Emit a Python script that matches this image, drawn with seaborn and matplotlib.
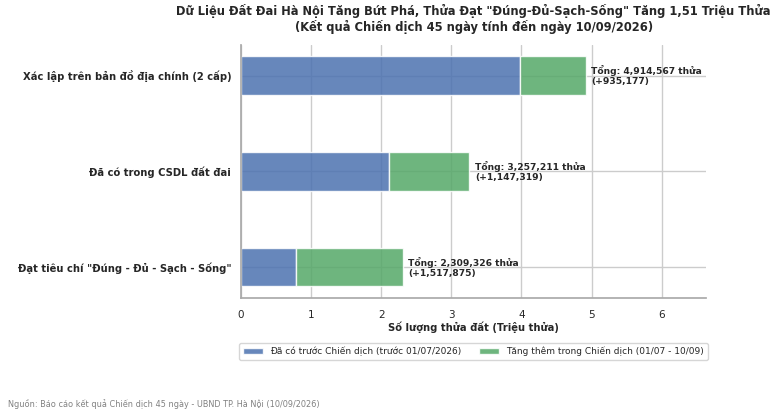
import matplotlib
matplotlib.use("Agg")
import matplotlib.pyplot as plt
import seaborn as sns

# --- Data (so thua dat) ------------------------------------------------
categories = [
    "Xác lập trên bản đồ địa chính (2 cấp)",
    "Đã có trong CSDL đất đai",
    'Đạt tiêu chí "Đúng - Đủ - Sạch - Sống"',
]
totals = [4914567, 3257211, 2309326]
increases = [935177, 1147319, 1517875]
before = [t - inc for t, inc in zip(totals, increases)]

label_before = "Đã có trước Chiến dịch (trước 01/07/2026)"
label_added = "Tăng thêm trong Chiến dịch (01/07 - 10/09)"
title = ('Dữ Liệu Đất Đai Hà Nội Tăng Bứt Phá, Thửa Đạt "Đúng-Đủ-Sạch-Sống" Tăng 1,51 Triệu Thửa\n'
         "(Kết quả Chiến dịch 45 ngày tính đến ngày 10/09/2026)")
source = "Nguồn: Báo cáo kết quả Chiến dịch 45 ngày - UBND TP. Hà Nội (10/09/2026)"

sns.set_theme(style="whitegrid")
plt.rcParams["font.family"] = ["DejaVu Sans"]
palette = sns.color_palette("deep")

fig = plt.figure(figsize=(7.77, 4.15), dpi=100)
ax = fig.add_axes([0.310, 0.282, 0.599, 0.610])

pos = list(range(len(categories)))[::-1]
b_mil = [v / 1e6 for v in before]
i_mil = [v / 1e6 for v in increases]

ax.barh(pos, b_mil, height=0.4, color=palette[0], alpha=0.85,
        edgecolor="white", linewidth=1, label=label_before)
ax.barh(pos, i_mil, left=b_mil, height=0.4, color=palette[2], alpha=0.85,
        edgecolor="white", linewidth=1, label=label_added)

for y, tot, inc in zip(pos, totals, increases):
    ax.text(tot / 1e6 + 0.08, y, f"Tổng: {tot:,} thửa\n(+{inc:,})",
            va="center", ha="left", fontsize=6.6, fontweight="bold",
            linespacing=1.1)

ax.set_yticks(pos)
ax.set_yticklabels(categories, fontsize=7.2, fontweight="bold")
ax.set_xlim(0, max(totals) / 1e6 * 1.35)
ax.tick_params(axis="x", labelsize=7.5, pad=3)
ax.tick_params(axis="y", pad=1)
ax.set_xlabel("Số lượng thửa đất (Triệu thửa)", fontsize=7.2, fontweight="bold", labelpad=1)
ax.set_title(title, fontsize=8.3, fontweight="bold", pad=10, linespacing=1.15)
sns.despine(ax=ax, top=True, right=True)
for side in ("left", "bottom"):
    ax.spines[side].set_color("#aaaaaa")

ax.legend(loc="upper center", bbox_to_anchor=(0.5, -0.16), ncol=2,
          fontsize=6.5, frameon=True, handlelength=2.2, borderpad=0.4)

fig.text(0.01, 0.027, source, fontsize=5.9, color="gray", va="center")

fig.savefig("out.png", dpi=100)
